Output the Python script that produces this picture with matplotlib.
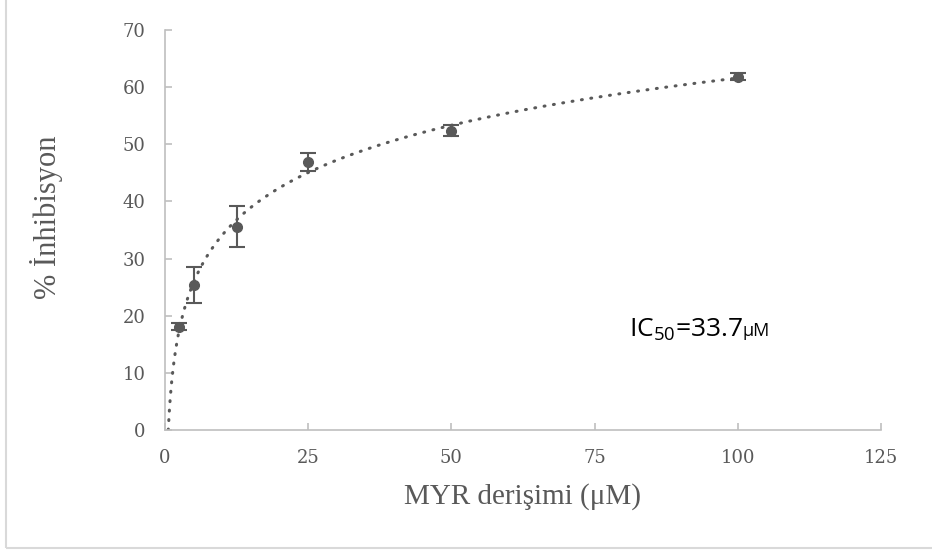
import numpy as np
import matplotlib
matplotlib.use("Agg")
import matplotlib.pyplot as plt
from matplotlib.patches import Rectangle

# MYR concentration (uM) vs % inhibition, mean +/- error
concentration = [2.5, 5, 12.5, 25, 50, 100]
inhibition = [18.1, 25.4, 35.6, 46.9, 52.4, 61.8]
error = [0.6, 3.2, 3.55, 1.6, 0.95, 0.6]

x_ticks = [0, 25, 50, 75, 100, 125]
y_ticks = [0, 10, 20, 30, 40, 50, 60, 70]

GRAY = "#595959"
AXIS_GRAY = "#BFBFBF"


def log_trendline(x, y):
    """Logarithmic trendline y = a*ln(x) + b, as in Excel."""
    a, b = np.polyfit(np.log(x), y, 1)
    x0 = np.exp(-b / a)
    xs = np.linspace(x0, max(x), 600)
    return xs, a * np.log(xs) + b


fig = plt.figure(figsize=(9.32, 5.51), dpi=100)
ax = fig.add_axes([165 / 932, 1 - 430 / 551, (881 - 165) / 932, 400 / 551])

# chart outer border
fig.patches.append(Rectangle((6 / 932, 3 / 551), 1.2, 1.2, transform=fig.transFigure,
                             fill=False, edgecolor="#D9D9D9", linewidth=1.5))

xs, ys = log_trendline(concentration, inhibition)
ax.plot(xs, ys, color=GRAY, linewidth=2.2, linestyle=(0, (0.3, 2.8)),
        dash_capstyle="round", zorder=2)

ax.errorbar(concentration, inhibition, yerr=error, fmt="o", color=GRAY,
            markersize=7, capsize=6, elinewidth=1.5, capthick=1.5, zorder=3)

ax.set_xlim(0, 125)
ax.set_ylim(0, 70)
ax.set_xticks(x_ticks)
ax.set_yticks(y_ticks)

for side in ["top", "right"]:
    ax.spines[side].set_visible(False)
for side in ["left", "bottom"]:
    ax.spines[side].set_color(AXIS_GRAY)
    ax.spines[side].set_linewidth(1.2)

ax.tick_params(direction="in", length=5, width=1.2, color=AXIS_GRAY,
               labelcolor=GRAY, labelsize=13, pad=14)
for lab in ax.get_xticklabels() + ax.get_yticklabels():
    lab.set_family("DejaVu Serif")

ax.set_xlabel("MYR derişimi (μM)", fontsize=21, color=GRAY, family="Liberation Serif")
ax.set_ylabel("% İnhibisyon", fontsize=22, color=GRAY, family="Liberation Serif")
ax.xaxis.set_label_coords(0.5, -0.132)
ax.yaxis.set_label_coords(-0.142, 0.532)

t = ax.text(81.0, 17.5, r"IC$_{\mathregular{50}}$=33.7", fontsize=19,
            family="Open Sans", color="black", va="center")
ax.annotate("μM", xy=(1, 0.45), xycoords=t, xytext=(0, 0), textcoords="offset points",
            fontsize=13, family="Open Sans", va="center", ha="left", color="black")

fig.savefig("out.png", dpi=100)
